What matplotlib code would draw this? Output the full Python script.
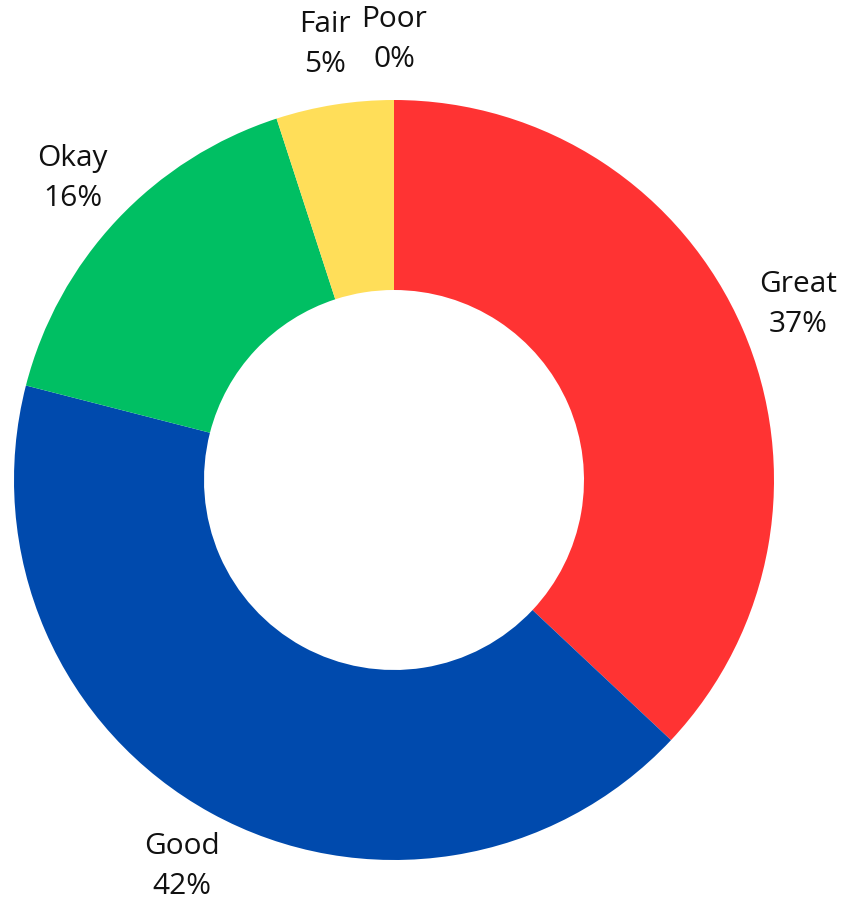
import matplotlib.pyplot as plt

categories = ['Great', 'Good', 'Okay', 'Fair', 'Poor']
values = [37, 42, 16, 5, 0]
colors = ['#FF3333', '#004AAD', '#00BF63', '#FFDE59', '#C0C0C0']

labels = [f'{c}\n{v}%' for c, v in zip(categories, values)]

fig = plt.figure(figsize=(8.58, 9.05), dpi=100)
ax = fig.add_axes([0, 0, 1, 1])

wedges, texts = ax.pie(values, labels=labels, colors=colors, startangle=90,
                       counterclock=False, labeldistance=1.16,
                       wedgeprops=dict(width=0.5, linewidth=0),
                       textprops=dict(fontsize=21.5, family='Open Sans', color='#111111'))
for t in texts:
    t.set_ha('center')
    t.set_va('center')
    t.set_linespacing(1.5)

ax.set_xlim(-394 / 380, 464 / 380)
ax.set_ylim(-425 / 380, 480 / 380)
ax.axis('off')

plt.savefig('out.png', dpi=100)
